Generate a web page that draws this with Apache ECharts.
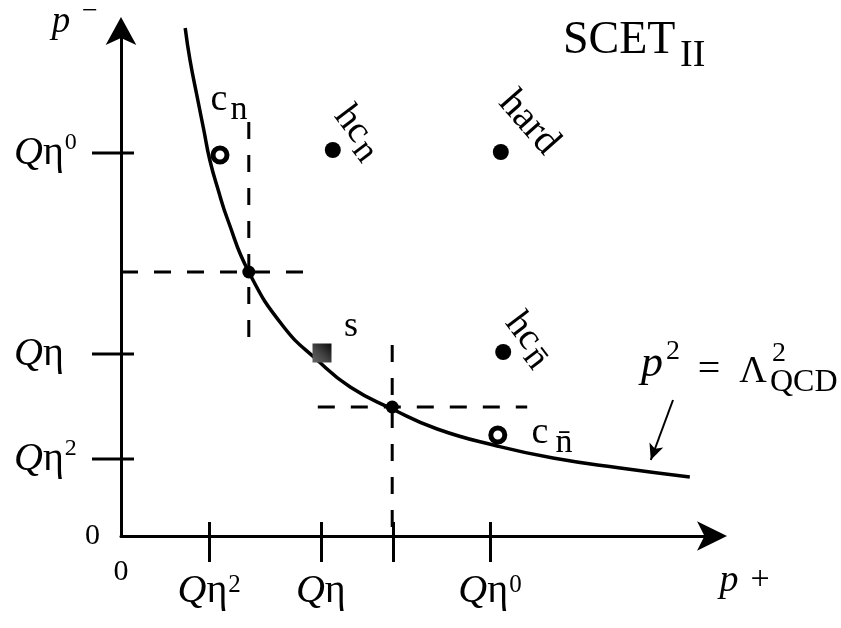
<!DOCTYPE html>
<html>
<head>
<meta charset="utf-8">
<script src="https://cdn.jsdelivr.net/npm/echarts@6/dist/echarts.min.js"></script>
<style>
html, body { margin: 0; padding: 0; background: #fff; }
#chart { width: 841px; height: 628px; }
</style>
</head>
<body>
<div id="chart"></div>
<script>
// p^2 = Lambda^2 hyperbola (x = p+, y = p-, arbitrary units)
var curvePoints = [[1.07, 10.16], [1.15, 9.52], [1.28, 8.72], [1.38, 8.12], [1.48, 7.52], [1.62, 6.92],
    [1.78, 6.32], [2.13, 5.28], [2.70, 4.20], [3.27, 3.52], [3.82, 2.98], [4.52, 2.54], [5.27, 2.14],
    [6.27, 1.80], [7.20, 1.56], [8.32, 1.36], [9.48, 1.18]];

// modes
var collinearPoints = [[1.65, 7.62], [6.28, 2.02]];           // c_n, c_nbar (open)
var hardPoints = [[3.53, 7.72], [6.33, 7.68], [6.37, 3.68]];  // hc_n, hard, hc_nbar
var softPoints = [[3.35, 3.66]];                              // s
var crossPoints = [[2.13, 5.28], [4.52, 2.58]];

// dashed guides
var guideH1 = [[0, 5.28], [3.12, 5.28]];
var guideV1 = [[2.13, 8.28], [2.13, 3.72]];
var guideH2 = [[3.28, 2.58], [6.77, 2.58]];
var guideV2 = [[4.52, 3.82], [4.52, 0]];

// arrow pointing to the curve
var arrowFrom = [9.2, 2.72];
var arrowTo = [8.83, 1.52];

// ticks and labels
var xTickValues = [1.47, 3.33, 4.53, 6.15];
var xLabelValues = [0, 1.47, 3.33, 6.15];
var xLabelTexts = ['0', 'Qη^2', 'Qη', 'Qη^0'];
var yTickValues = [1.54, 3.64, 7.66];
var yLabelValues = [0, 1.54, 3.64, 7.66];
var yLabelTexts = ['0', 'Qη^2', 'Qη', 'Qη^0'];

var SERIF = "'Liberation Serif', 'Times New Roman', serif";

function labelFormatter(values, texts) {
    return function (v) {
        var i = values.indexOf(v);
        if (i < 0) return '';
        var s = texts[i];
        if (s === '0') return '{z|0}';
        var parts = s.split('^');
        var out = '{q|' + parts[0].charAt(0) + '}{e|' + parts[0].slice(1) + '}';
        if (parts[1]) out += '{sup|' + parts[1] + '}';
        return out;
    };
}

function t(x, y, s, size, extra) {
    var style = {
        text: s, fontSize: size, fontFamily: SERIF, fill: '#000',
        align: 'center', verticalAlign: 'middle', textAlign: 'center', textVerticalAlign: 'middle'
    };
    for (var k in extra) style[k] = extra[k];
    return { type: 'text', x: x, y: y, style: style, silent: true };
}

function dashed(data) {
    return {
        type: 'line', data: data, symbol: 'none', silent: true, z: 1,
        lineStyle: { color: '#000', width: 3, type: [17, 16] }
    };
}

var myChart = echarts.init(document.getElementById('chart'));

var tickStyle = { color: '#000', width: 3 };

option = {
    animation: false,
    backgroundColor: '#fff',
    grid: { left: 121, top: 36, width: 600, height: 500, containLabel: false, outerBoundsMode: 'none' },
    xAxis: [{
        type: 'value', min: 0, max: 10, position: 'bottom',
        axisLine: {
            show: true, onZero: false,
            symbol: ['none', 'arrow'], symbolSize: [22, 30], symbolOffset: [0, 6],
            lineStyle: { color: '#000', width: 3 }
        },
        splitLine: { show: false },
        axisTick: { show: true, customValues: xTickValues, length: 26, lineStyle: tickStyle },
        axisLabel: {
            show: true, customValues: xLabelValues, margin: 21, color: '#000',
            formatter: labelFormatter(xLabelValues, xLabelTexts),
            rich: {
                z: { fontFamily: SERIF, fontSize: 30, lineHeight: 30, color: '#000' },
                q: { fontFamily: SERIF, fontStyle: 'italic', fontSize: 40, lineHeight: 68, color: '#000' },
                e: { fontFamily: SERIF, fontSize: 40, lineHeight: 68, color: '#000' },
                sup: { fontFamily: SERIF, fontSize: 25, verticalAlign: 'top', padding: [16, 0, 0, 1], color: '#000' }
            }
        }
    }, {
        type: 'value', min: 0, max: 10, position: 'bottom',
        axisLine: { show: false, onZero: false },
        splitLine: { show: false },
        axisTick: { show: true, inside: true, customValues: xTickValues, length: 14, lineStyle: tickStyle },
        axisLabel: { show: false }
    }],
    yAxis: {
        type: 'value', min: 0, max: 10, position: 'left',
        axisLine: {
            show: true, onZero: false,
            symbol: ['none', 'arrow'], symbolSize: [23, 28], symbolOffset: [0, 19],
            lineStyle: { color: '#000', width: 3 }
        },
        splitLine: { show: false },
        axisTick: { show: false },
        axisLabel: {
            show: true, customValues: yLabelValues, margin: 107, align: 'left', color: '#000',
            formatter: labelFormatter(yLabelValues, yLabelTexts),
            rich: {
                z: { fontFamily: SERIF, fontSize: 30, lineHeight: 30, padding: [0, 0, 0, 71], color: '#000' },
                q: { fontFamily: SERIF, fontStyle: 'italic', fontSize: 40, lineHeight: 44, color: '#000' },
                e: { fontFamily: SERIF, fontSize: 40, lineHeight: 44, color: '#000' },
                sup: { fontFamily: SERIF, fontSize: 24, verticalAlign: 'top', padding: [0, 0, 0, 1], color: '#000' }
            }
        }
    },
    series: [
        dashed(guideH1), dashed(guideV1), dashed(guideH2), dashed(guideV2),
        {
            type: 'line', data: curvePoints, smooth: 0.5, symbol: 'none',
            clip: false, silent: true, z: 2,
            lineStyle: { color: '#000', width: 3.5 },
            markLine: {
                silent: true, symbol: ['none', 'arrow'], symbolSize: [11, 16],
                label: { show: false },
                lineStyle: { color: '#000', width: 2, type: 'solid' },
                data: [[{ coord: arrowFrom }, { coord: arrowTo }]]
            }
        },
        {
            // y-axis ticks crossing the axis line
            type: 'scatter', data: yTickValues.map(function (v) { return [0, v]; }),
            symbol: 'rect', symbolSize: [42, 3], symbolOffset: [-8, 0], clip: false, silent: true, z: 5,
            itemStyle: { color: '#000', opacity: 1 }
        },
        {
            type: 'scatter', data: crossPoints, symbol: 'circle', symbolSize: 13, silent: true, z: 3,
            itemStyle: { color: '#000', opacity: 1 }
        },
        {
            type: 'scatter', data: collinearPoints, symbol: 'circle', symbolSize: 14, silent: true, z: 4,
            itemStyle: { color: '#fff', borderColor: '#000', borderWidth: 5, opacity: 1 }
        },
        {
            type: 'scatter', data: hardPoints, symbol: 'circle', symbolSize: 16, silent: true, z: 4,
            itemStyle: { color: '#000', opacity: 1 }
        },
        {
            type: 'scatter', data: softPoints, symbol: 'rect', symbolSize: 19, silent: true, z: 4,
            itemStyle: {
                opacity: 1,
                color: new echarts.graphic.LinearGradient(0, 1, 1, 0, [
                    { offset: 0, color: '#666' }, { offset: 0.45, color: '#444' }, { offset: 1, color: '#0a0a0a' }
                ])
            }
        }
    ],
    graphic: {
        elements: [
            // axis names
            t(61, 22, 'p', 37, { fontStyle: 'italic' }),
            t(90, 12, '−', 28),
            t(729, 581, 'p', 38, { fontStyle: 'italic' }),
            t(760, 580, '+', 34),
            // title
            t(563, 41, 'SCET', 46, { align: 'left', textAlign: 'left' }),
            t(680, 56, 'II', 38, { align: 'left', textAlign: 'left' }),
            // mode labels
            t(219, 100, 'c', 38),
            t(239, 110, 'n', 34),
            t(351, 327, 's', 36),
            t(540, 433, 'c', 38),
            t(564, 443, 'n\u0304', 34),
            {
                type: 'group', x: 358, y: 135, rotation: -0.92, children: [
                    t(-30, -2, 'hc', 38, { align: 'left', textAlign: 'left' }),
                    t(8, 5, 'n', 36, { align: 'left', textAlign: 'left' })
                ]
            },
            {
                type: 'group', x: 529, y: 123, rotation: -0.85, children: [
                    t(0, 0, 'hard', 40)
                ]
            },
            {
                type: 'group', x: 529, y: 342, rotation: -0.92, children: [
                    t(-30, -2, 'hc', 38, { align: 'left', textAlign: 'left' }),
                    t(8, 5, 'n\u0304', 36, { align: 'left', textAlign: 'left' })
                ]
            },
            // p^2 = Lambda^2_QCD
            t(652, 364, 'p', 44, { fontStyle: 'italic' }),
            t(673, 352, '2', 28),
            t(709, 370, '=', 40),
            t(753, 372, 'Λ', 38),
            t(779, 354, '2', 28),
            t(770, 383, 'QCD', 32, { align: 'left', textAlign: 'left' })
        ]
    }
};

myChart.clear();
myChart.setOption(option);
</script>
</body>
</html>
